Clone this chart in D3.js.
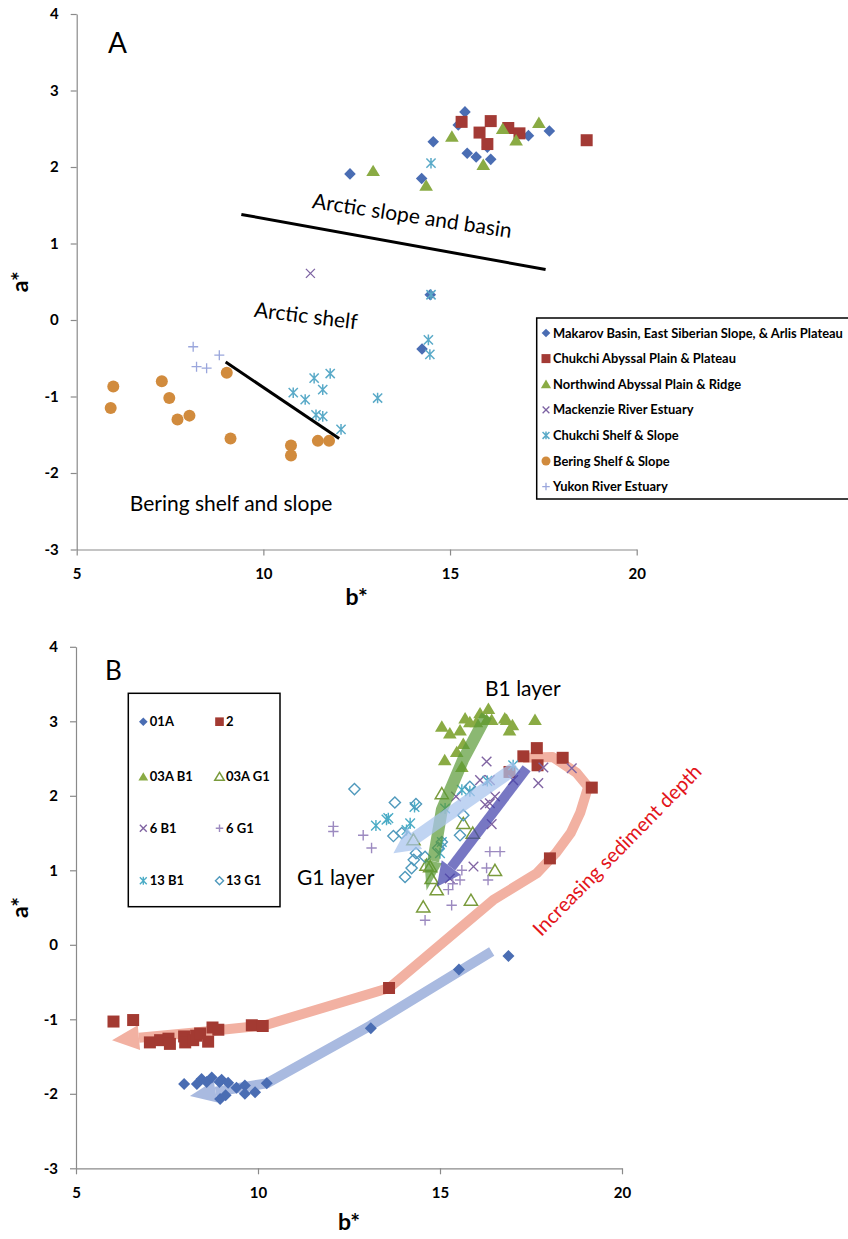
<!DOCTYPE html>
<html>
<head>
<meta charset="utf-8">
<script src="https://cdn.jsdelivr.net/npm/d3@7"></script>
<style>
  body { margin: 0; background: #fff; }
  svg { display: block; }
  text { font-family: Lato, "Open Sans", sans-serif; }
</style>
</head>
<body>
<svg id="chart" width="848" height="1239"></svg>
<script>
// ---------- shared axis ticks ----------
const xTicks = [5, 10, 15, 20];
const yTicks = [-3, -2, -1, 0, 1, 2, 3, 4];

// ---------- Panel A: surface sediment colour by region, [b*, a*] ----------
const makarov = [[15.40,2.72],[15.22,2.55],[14.55,2.33],[15.46,2.18],[15.70,2.13],[16.09,2.10],[16.00,2.26],
  [17.10,2.41],[17.66,2.47],[14.24,1.85],[12.32,1.91],[14.47,0.33],[14.25,-0.38]];
const chukchiAbyssal = [[15.31,2.59],[16.09,2.60],[15.79,2.45],[16.00,2.30],[16.56,2.51],[16.86,2.44],[18.66,2.35]];
const northwind = [[15.05,2.40],[16.41,2.50],[16.77,2.35],[17.38,2.58],[15.89,2.03],[14.36,1.76],[12.94,1.95]];
const mackenzie = [[11.26,0.61]];
const chukchiShelf = [[14.49,2.05],[14.49,0.33],[14.42,-0.26],[14.46,-0.45],[13.06,-1.02],[10.80,-0.95],[11.12,-1.04],
  [11.36,-0.76],[11.79,-0.70],[11.59,-0.91],[11.41,-1.24],[11.59,-1.26],[12.08,-1.43]];
const bering = [[5.98,-0.87],[5.91,-1.15],[7.28,-0.80],[7.48,-1.02],[7.70,-1.30],[8.02,-1.25],[9.02,-0.69],
  [9.12,-1.55],[10.74,-1.64],[10.74,-1.77],[11.46,-1.58],[11.76,-1.58]];
const yukon = [[8.12,-0.35],[8.21,-0.61],[8.48,-0.63],[8.82,-0.46]];
const regionNames = ["Makarov Basin, East Siberian Slope, & Arlis Plateau", "Chukchi Abyssal Plain & Plateau",
  "Northwind Abyssal Plain & Ridge", "Mackenzie River Estuary", "Chukchi Shelf & Slope",
  "Bering Shelf & Slope", "Yukon River Estuary"];
// province boundaries drawn on panel A
const slopeBoundary = [[9.41,1.38],[17.56,0.66]];
const beringBoundary = [[8.99,-0.55],[12.03,-1.55]];

// ---------- Panel B: down-core colour by core, [b*, a*] ----------
const core01A = [[7.97,-1.87],[8.32,-1.87],[8.45,-1.80],[8.59,-1.84],[8.73,-1.78],[8.94,-1.84],[9.00,-1.81],
  [9.18,-1.85],[9.41,-1.92],[9.64,-1.89],[9.64,-2.00],[9.92,-1.98],[10.24,-1.86],[8.96,-2.07],[9.11,-2.02],
  [13.10,-1.12],[15.52,-0.33],[16.88,-0.15]];
const core2 = [[6.03,-1.03],[6.57,-1.01],[7.03,-1.31],[7.31,-1.28],[7.54,-1.26],[7.58,-1.33],[7.97,-1.23],
  [8.00,-1.31],[8.22,-1.28],[8.30,-1.22],[8.41,-1.19],[8.63,-1.30],[8.75,-1.11],[8.91,-1.14],[9.83,-1.08],
  [10.13,-1.09],[13.60,-0.58],[18.02,1.16],[19.17,2.11],[18.37,2.51],[17.66,2.64],[17.68,2.41],[17.29,2.53],[16.91,2.32]];
const core03AB1 = [[15.05,2.93],[15.27,2.84],[15.55,2.88],[15.69,3.04],[15.82,2.99],[16.00,2.99],[16.10,3.11],
  [16.28,3.02],[16.33,3.17],[16.42,3.02],[16.78,3.04],[16.83,3.02],[16.99,2.95],[16.91,2.88],[17.61,3.02],
  [15.64,2.70],[15.46,2.59],[15.60,2.39],[15.13,2.48]];
const core03AG1 = [[15.05,2.03],[15.64,1.63],[15.90,1.50],[14.27,1.41],[14.63,1.07],[14.77,0.89],[14.91,0.74],
  [14.54,0.51],[15.85,0.60],[16.51,1.00],[14.73,1.05]];
const core6B1 = [[16.28,2.46],[16.37,2.21],[16.10,2.21],[16.51,1.99],[16.24,1.88],[16.42,1.62],[15.44,1.99],
  [17.01,2.21],[17.70,2.17],[17.84,2.38],[18.62,2.37],[15.92,1.05],[15.27,0.89],[16.37,1.90]];
const core6G1 = [[12.07,1.59],[12.07,1.52],[12.89,1.47],[13.12,1.30],[16.37,1.25],[16.65,1.25],[16.28,1.03],
  [16.32,0.87],[15.60,1.00],[15.55,0.87],[15.23,0.74],[15.32,0.53],[14.59,0.33],[15.35,0.82]];
const core13B1 = [[17.01,2.41],[15.82,2.06],[15.60,2.08],[15.14,1.83],[14.18,1.63],[13.58,1.70],[13.24,1.60],
  [14.08,1.54],[15.05,1.38],[15.00,1.23],[14.30,1.85],[16.30,2.20],[13.53,1.68]];
const core13G1 = [[12.65,2.09],[13.76,1.91],[14.34,1.89],[13.72,1.46],[13.95,1.50],[14.34,1.23],[14.28,1.14],
  [14.59,1.18],[14.22,1.03],[14.04,0.91],[15.05,1.38],[15.64,1.74],[15.55,1.47],[15.82,2.12],[14.95,1.30]];
const coreNames = ["01A", "2", "03A B1", "03A G1", "6 B1", "6 G1", "13 B1", "13 G1"];
// down-core trend arrows (surface -> depth), [b*, a*]
const trend2 = [[17.28,2.51],[18.10,2.52],[18.75,2.31],[19.07,2.12],[18.85,1.77],[18.59,1.50],[18.18,1.23],
  [17.66,0.96],[16.46,0.60],[13.60,-0.58],[10.19,-1.08],[8.41,-1.17],[5.99,-1.28]];
const trend01A = [[16.42,-0.09],[13.10,-1.08],[10.24,-1.86],[9.10,-1.95],[8.13,-2.03]];
const trendB1Green = [[16.28,3.08],[15.63,2.48],[15.05,1.81],[14.82,1.14],[14.63,0.73]];
const trendB1Blue = [[17.38,2.37],[14.91,0.78]];
const trendG1 = [[17.11,2.39],[13.72,1.23]];

// ---------- marker shapes ----------
function markerPath(type, r) {
  switch (type) {
    case "diamond": return `M0,${-r}L${r},0L0,${r}L${-r},0Z`;
    case "square": return `M${-r},${-r}H${r}V${r}H${-r}Z`;
    case "triangle": return `M0,${-r}L${r*1.1},${r*0.85}L${-r*1.1},${r*0.85}Z`;
    case "circle": return d3.symbol(d3.symbolCircle, Math.PI * r * r)();
    case "x": return `M${-r},${-r}L${r},${r}M${r},${-r}L${-r},${r}`;
    case "plus": return `M${-r},0H${r}M0,${-r}V${r}`;
    case "star": return `M${-r},${-r}L${r},${r}M${r},${-r}L${-r},${r}M0,${-r*1.15}V${r*1.15}`;
  }
}
function styleMarker(sel, st) {
  const filled = ["diamond", "square", "triangle", "circle"].includes(st.type) && !st.open;
  sel.attr("d", markerPath(st.type, st.r))
    .attr("fill", filled ? st.color : "none")
    .attr("stroke", filled ? "none" : st.color)
    .attr("stroke-width", filled ? 0 : (st.sw || 1.4));
}
function drawSeries(g, data, st, x, y) {
  g.append("g").selectAll("path").data(data).join("path")
    .attr("transform", d => `translate(${x(d[0])},${y(d[1])})`)
    .call(styleMarker, st);
}

// ---------- axes frame ----------
function drawAxes(box, xTitleY) {
  const x = d3.scaleLinear().domain([5, 20]).range([box.left, box.right]);
  const y = d3.scaleLinear().domain([-3, 4]).range([box.bottom, box.top]);
  const fmt = d => String(d);
  const gx = svg.append("g").attr("transform", `translate(0,${box.bottom})`)
    .call(d3.axisBottom(x).tickValues(xTicks).tickFormat(fmt).tickSize(6).tickSizeOuter(0).tickPadding(13));
  const gy = svg.append("g").attr("transform", `translate(${box.left},0)`)
    .call(d3.axisLeft(y).tickValues(yTicks).tickFormat(fmt).tickSize(6).tickSizeOuter(0).tickPadding(12));
  [gx, gy].forEach(g => {
    g.select(".domain").attr("stroke", "#8a8a8a").attr("stroke-width", 1.2);
    g.selectAll(".tick line").attr("stroke", "#8a8a8a").attr("stroke-width", 1.2);
    g.selectAll(".tick text").attr("fill", "#000").attr("font-size", 15).attr("font-weight", 700)
      .attr("font-family", "Lato, sans-serif");
  });
  svg.append("text").attr("x", (box.left + box.right) / 2).attr("y", xTitleY)
    .attr("text-anchor", "middle").attr("font-size", 23).attr("font-weight", 700).text("b*");
  svg.append("text").attr("transform", `translate(28,${(box.top + box.bottom) / 2}) rotate(-90)`)
    .attr("text-anchor", "middle").attr("font-size", 23).attr("font-weight", 700).text("a*");
  return { x, y };
}

function drawArrow(g, pts, o) {
  const n = pts.length, tip = pts[n - 1], prev = pts[n - 2];
  const len = Math.hypot(tip[0] - prev[0], tip[1] - prev[1]);
  const ux = (tip[0] - prev[0]) / len, uy = (tip[1] - prev[1]) / len;
  const base = [tip[0] - ux * o.headLen, tip[1] - uy * o.headLen];
  const grp = g.append("g").attr("opacity", o.opacity);
  grp.append("path").attr("d", d3.line()(pts.slice(0, n - 1).concat([base])))
    .attr("fill", "none").attr("stroke", o.color).attr("stroke-width", o.width)
    .attr("stroke-linejoin", "round").attr("stroke-linecap", "butt");
  const hw = o.headWidth / 2, px = -uy, py = ux;
  grp.append("path")
    .attr("d", `M${tip[0]},${tip[1]}L${base[0] + px * hw},${base[1] + py * hw}L${base[0] - px * hw},${base[1] - py * hw}Z`)
    .attr("fill", o.color);
}

const svg = d3.select("#chart");

// ================= Panel A =================
{
  const { x, y } = drawAxes({ left: 76.7, right: 636.7, top: 14, bottom: 549.5 }, 605);
  const g = svg.append("g");
  const stylesA = [
    { type: "diamond", r: 5.8, color: "#4a6db3" },
    { type: "square", r: 6, color: "#a33a35" },
    { type: "triangle", r: 6.2, color: "#8aab44" },
    { type: "x", r: 4.5, color: "#7d63a3", sw: 1.3 },
    { type: "star", r: 4.6, color: "#5aaac8", sw: 1.5 },
    { type: "circle", r: 6, color: "#d18b3d" },
    { type: "plus", r: 5, color: "#9aa6dc", sw: 1.3 }
  ];
  [makarov, chukchiAbyssal, northwind, mackenzie, chukchiShelf, bering, yukon]
    .forEach((d, i) => drawSeries(g, d, stylesA[i], x, y));

  [slopeBoundary, beringBoundary].forEach(seg => {
    g.append("line").attr("x1", x(seg[0][0])).attr("y1", y(seg[0][1]))
      .attr("x2", x(seg[1][0])).attr("y2", y(seg[1][1]))
      .attr("stroke", "#000").attr("stroke-width", 3);
  });

  g.append("text").attr("x", 108).attr("y", 53).attr("font-size", 28).text("A");
  g.append("text").attr("transform", "translate(411,223) rotate(8.6)").attr("text-anchor", "middle")
    .attr("font-size", 21).text("Arctic slope and basin");
  g.append("text").attr("transform", "translate(305,323) rotate(7)").attr("text-anchor", "middle")
    .attr("font-size", 21).text("Arctic shelf");
  g.append("text").attr("x", 231).attr("y", 511).attr("text-anchor", "middle")
    .attr("font-size", 21).text("Bering shelf and slope");

  // legend (box runs past the right edge of the page)
  const lg = svg.append("g");
  lg.append("rect").attr("x", 536.7).attr("y", 318).attr("width", 400).attr("height", 181)
    .attr("fill", "#fff").attr("stroke", "#000").attr("stroke-width", 1.5);
  regionNames.forEach((name, i) => {
    const cy = 333 + i * 25.6;
    const st = Object.assign({}, stylesA[i], { r: stylesA[i].r * 0.75 });
    lg.append("path").attr("transform", `translate(546,${cy})`).call(styleMarker, st);
    lg.append("text").attr("x", 553).attr("y", cy).attr("dy", "0.36em")
      .attr("font-size", 12.9).attr("font-weight", 700).text(name);
  });
}

// ================= Panel B =================
{
  const { x, y } = drawAxes({ left: 76, right: 622, top: 646.8, bottom: 1168.3 }, 1230);
  const g = svg.append("g");
  const px = d => d.map(p => [x(p[0]), y(p[1])]);

  drawArrow(g, px(trend2), { color: "#f2b1a2", width: 10, headLen: 27, headWidth: 25, opacity: 1 });
  drawArrow(g, px(trend01A), { color: "#a9bae0", width: 10, headLen: 26, headWidth: 22, opacity: 1 });

  const stylesB = [
    { type: "diamond", r: 6, color: "#4a6db3" },
    { type: "square", r: 6, color: "#a33a32" },
    { type: "triangle", r: 6.2, color: "#8aab44" },
    { type: "triangle", r: 6, color: "#7a9b3c", open: true, sw: 1.5 },
    { type: "x", r: 4.8, color: "#8064a2", sw: 1.4 },
    { type: "plus", r: 5.2, color: "#9c8ac0", sw: 1.4 },
    { type: "star", r: 4.8, color: "#4bacc6", sw: 1.4 },
    { type: "diamond", r: 5.6, color: "#4f99bc", open: true, sw: 1.4 }
  ];
  [core01A, core2, core03AB1, core03AG1, core6B1, core6G1, core13B1, core13G1]
    .forEach((d, i) => drawSeries(g, d, stylesB[i], x, y));

  drawArrow(g, px(trendB1Green), { color: "#5a9a36", width: 12, headLen: 30, headWidth: 18, opacity: 0.7 });
  drawArrow(g, px(trendG1), { color: "#a9c4ee", width: 13, headLen: 26, headWidth: 26, opacity: 0.72 });
  drawArrow(g, px(trendB1Blue), { color: "#4444ad", width: 10, headLen: 24, headWidth: 24, opacity: 0.72 });

  g.append("text").attr("x", 105).attr("y", 680).attr("font-size", 26).text("B");
  g.append("text").attr("x", 485).attr("y", 696).attr("font-size", 21).text("B1 layer");
  g.append("text").attr("x", 297).attr("y", 885).attr("font-size", 21).text("G1 layer");
  g.append("text").attr("transform", "translate(622,855) rotate(-45.5)").attr("text-anchor", "middle")
    .attr("font-size", 20).attr("fill", "#e3141a").text("Increasing sediment depth");

  // legend
  const lg = svg.append("g");
  lg.append("rect").attr("x", 128.3).attr("y", 693.3).attr("width", 151.7).attr("height", 213.4)
    .attr("fill", "#fff").attr("stroke", "#000").attr("stroke-width", 1.5);
  coreNames.forEach((name, i) => {
    const col = i % 2, row = Math.floor(i / 2);
    const cy = [721.7, 776.7, 828.3, 880.7][row];
    const mx = col ? 219.5 : 143.3;
    const st = Object.assign({}, stylesB[i], { r: stylesB[i].r * 0.72 });
    lg.append("path").attr("transform", `translate(${mx},${cy})`).call(styleMarker, st);
    lg.append("text").attr("x", mx + 6.5).attr("y", cy).attr("dy", "0.36em")
      .attr("font-size", 13).attr("font-weight", 700).text(name);
  });
}
</script>
</body>
</html>
